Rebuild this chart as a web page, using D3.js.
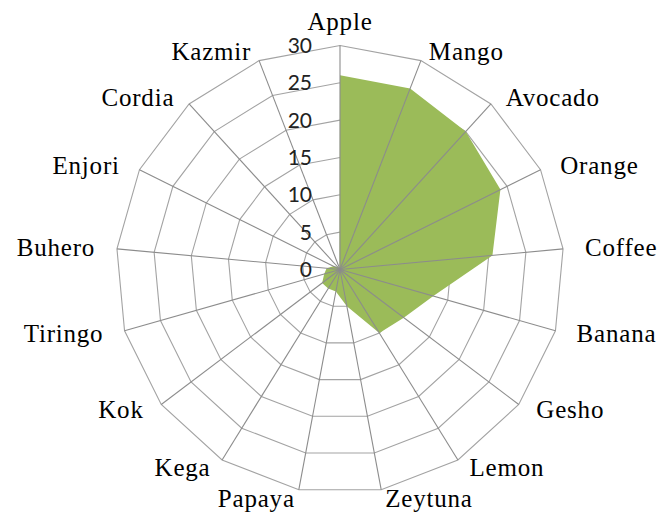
<!DOCTYPE html>
<html>
<head>
<meta charset="utf-8">
<script src="https://cdn.jsdelivr.net/npm/d3@7"></script>
<style>
  body { margin: 0; background: #fff; }
  .cat { font-family: "Liberation Serif", "Times New Roman", serif; font-size: 25px; letter-spacing: 0.8px; fill: #000; }
  .tick { font-family: Lato, "Open Sans", sans-serif; font-size: 21px; fill: #222; }
</style>
</head>
<body>
<div id="chart"></div>
<script>
// chart data
const categories = ['Apple', 'Mango', 'Avocado', 'Orange', 'Coffee', 'Banana', 'Gesho', 'Lemon',
    'Zeytuna', 'Papaya', 'Kega', 'Kok', 'Tiringo', 'Buhero', 'Enjori', 'Cordia', 'Kazmir'];
const values = [26, 26, 25, 24, 20.5, 13, 10.7, 10, 5, 3, 3, 3, 2.2, 1.8, 1, 0.5, 0.2];
const tickValues = [0, 5, 10, 15, 20, 25, 30];

const width = 665, height = 513;
const cx = 340, cy = 269.5;

const svg = d3.select("#chart")
    .append("svg")
    .attr("width", width)
    .attr("height", height);

const g = svg.append("g").attr("transform", `translate(${cx},${cy})`);

// radial scale and angle for each category
const r = d3.scaleLinear().domain([0, 30]).range([0, 224]);
const angle = d3.scalePoint().domain(categories).range([0, 2 * Math.PI * (1 - 1 / categories.length)]);

const pt = (cat, v) => [r(v) * Math.sin(angle(cat)), -r(v) * Math.cos(angle(cat))];

// grid rings
const ringLine = d3.line().curve(d3.curveLinearClosed);
g.selectAll(".ring")
    .data(tickValues.filter(t => t > 0))
    .enter().append("path")
    .attr("class", "ring")
    .attr("d", t => ringLine(categories.map(c => pt(c, t))))
    .attr("fill", "none")
    .attr("stroke", "#a3a3a3")
    .attr("stroke-width", 1.1);

// data area
g.append("path")
    .attr("d", ringLine(categories.map((c, i) => pt(c, values[i]))))
    .attr("fill", "#9bbb59")
    .attr("stroke", "none");

// spokes
g.selectAll(".spoke")
    .data(categories)
    .enter().append("line")
    .attr("class", "spoke")
    .attr("x1", 0).attr("y1", 0)
    .attr("x2", c => pt(c, 30)[0])
    .attr("y2", c => pt(c, 30)[1])
    .attr("stroke", "#8c8c8c")
    .attr("stroke-width", 1.1);

// value ticks along the Apple axis
g.selectAll(".tick")
    .data(tickValues)
    .enter().append("text")
    .attr("class", "tick")
    .attr("x", -28)
    .attr("y", t => -r(t))
    .attr("dy", "0.36em")
    .attr("text-anchor", "end")
    .text(t => t);

// category labels
g.selectAll(".cat")
    .data(categories)
    .enter().append("text")
    .attr("class", "cat")
    .attr("x", c => {
        const s = Math.sin(angle(c));
        return pt(c, 30)[0] + s * 22;
    })
    .attr("y", c => {
        const co = Math.cos(angle(c));
        const off = Math.abs(Math.sin(angle(c))) < 0.05 ? 24 : 9;
        return pt(c, 30)[1] - co * off;
    })
    .attr("dy", "0.33em")
    .attr("text-anchor", c => {
        const s = Math.sin(angle(c));
        return s > 0.05 ? "start" : (s < -0.05 ? "end" : "middle");
    })
    .text(c => c);
</script>
</body>
</html>
